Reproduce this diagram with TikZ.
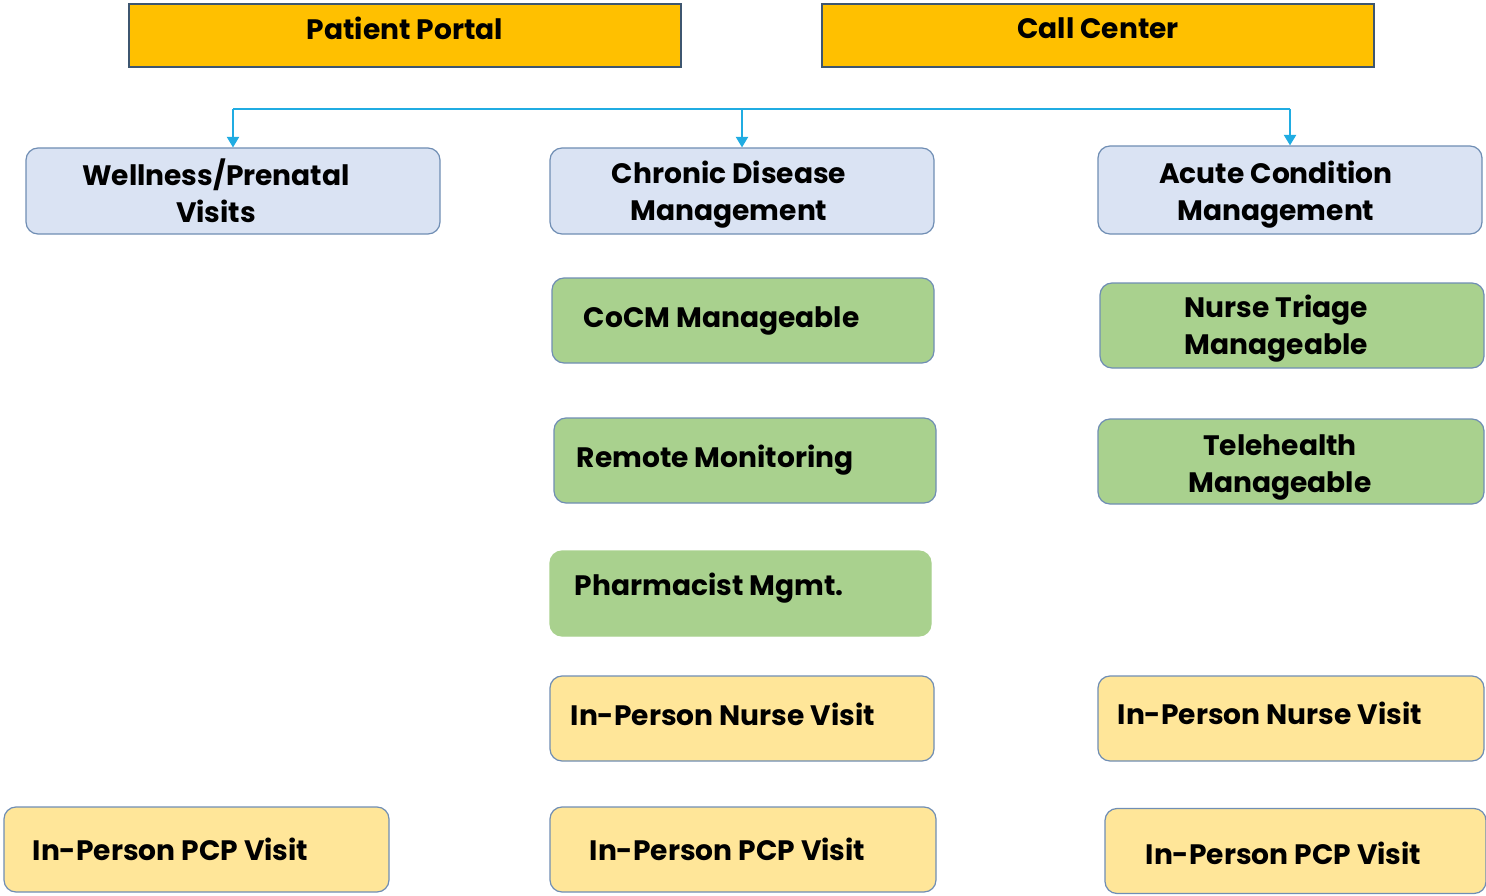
\documentclass[tikz,border=0pt]{standalone}
\usepackage{fontspec}
\setmainfont{Poppins}
\usetikzlibrary{arrows.meta,positioning}

\definecolor{headerfill}{RGB}{255,192,0}
\definecolor{headeredge}{RGB}{62,86,112}
\definecolor{cardedge}{RGB}{112,142,180}
\definecolor{bluefill}{RGB}{218,227,243}
\definecolor{greenfill}{RGB}{169,209,142}
\definecolor{yellowfill}{RGB}{255,230,153}
\definecolor{buscolor}{RGB}{32,172,226}

\def\px{0.02cm}

\begin{document}
\begin{tikzpicture}[x=0.02cm,y=-0.02cm,header/.style={draw=headeredge,fill=headerfill,line width=0.6pt,inner sep=0pt,minimum width=552*\px,minimum height=63*\px},card/.style={draw=cardedge,line width=0.7pt,rounded corners=0.24cm,inner sep=0pt,minimum height=85*\px},bluecard/.style={card,fill=bluefill,minimum height=86*\px},greencard/.style={card,fill=greenfill},yellowcard/.style={card,fill=yellowfill},cardtext/.style={font=\fontsize{16}{21}\selectfont\bfseries,inner sep=0pt,align=center},cardtextL/.style={cardtext,anchor=west,align=left},busline/.style={draw=buscolor,line width=0.8pt}]
\useasboundingbox (0,0) rectangle (1486,895);

% entry points
\node[header] (portal) at (405,35.5) {};
\node[cardtext] (portalT) at ([yshift=7*\px]portal.center) {Patient Portal};
\node[header] (callcenter) at (1098,35.5) {};
\node[cardtext] (callcenterT) at ([yshift=7*\px]callcenter.center) {Call Center};

% visit categories
\node[bluecard,minimum width=414*\px] (wellness) at (233,191) {};
\node[cardtext] (wellnessT) at ([xshift=-17*\px]wellness.center) {Wellness/Prenatal\\Visits};
\node[bluecard,minimum width=384*\px] (chronic) at (742,191) {};
\node[cardtext] (chronicT) at ([xshift=-13*\px,yshift=-4*\px]chronic.center) {Chronic Disease\\Management};
\node[bluecard,minimum width=384*\px,minimum height=88*\px] (acute) at (1290,190) {};
\node[cardtext] (acuteT) at ([xshift=-14*\px,yshift=-5*\px]acute.center) {Acute Condition\\Management};

% bus from the entry points down to each category
\coordinate (bus) at (742,109);
\draw[busline] (wellness.north |- bus) -- (acute.north |- bus);
\foreach \cat in {wellness,chronic,acute}
  \draw[busline,-{Triangle[width=7pt,length=6pt]}] (\cat.north |- bus) -- (\cat.north);

% chronic disease column
\node[greencard,minimum width=382*\px] (cocm) at (743,320.5) {};
\node[cardtextL] (cocmT) at ([xshift=32*\px]cocm.west) {CoCM Manageable};
\node[greencard,minimum width=382*\px] (remote) at (745,460.5) {};
\node[cardtextL] (remoteT) at ([xshift=23*\px]remote.west) {Remote Monitoring};
\node[greencard,draw=greenfill,minimum width=381*\px] (pharm) at (740.5,593.5) {};
\node[cardtextL] (pharmT) at ([xshift=25*\px,yshift=5*\px]pharm.west) {Pharmacist Mgmt.};
\node[yellowcard,minimum width=384*\px] (nursemid) at (742,718.5) {};
\node[cardtextL] (nursemidT) at ([xshift=21*\px,yshift=4*\px]nursemid.west) {In-Person Nurse Visit};
\node[yellowcard,minimum width=386*\px] (pcpmid) at (743,849.5) {};
\node[cardtextL] (pcpmidT) at ([xshift=40*\px]pcpmid.west) {In-Person PCP Visit};

% acute condition column
\node[greencard,minimum width=384*\px] (triage) at (1292,325.5) {};
\node[cardtextL] (triageT) at ([xshift=85*\px,yshift=-3*\px]triage.west) {Nurse Triage\\Manageable};
\node[greencard,minimum width=386*\px] (tele) at (1291,461.5) {};
\node[cardtext] (teleT) at ([xshift=-11*\px,yshift=-6*\px]tele.center) {Telehealth\\Manageable};
\node[yellowcard,minimum width=386*\px] (nurseright) at (1291,718.5) {};
\node[cardtextL] (nurserightT) at ([xshift=20*\px,yshift=5*\px]nurseright.west) {In-Person Nurse Visit};
\node[yellowcard,minimum width=381*\px] (pcpright) at (1295.5,851) {};
\node[cardtextL] (pcprightT) at ([xshift=41*\px,yshift=-2*\px]pcpright.west) {In-Person PCP Visit};

% wellness column
\node[yellowcard,minimum width=385*\px] (pcpleft) at (196.5,849.5) {};
\node[cardtextL] (pcpleftT) at ([xshift=29*\px]pcpleft.west) {In-Person PCP Visit};
\end{tikzpicture}
\end{document}
